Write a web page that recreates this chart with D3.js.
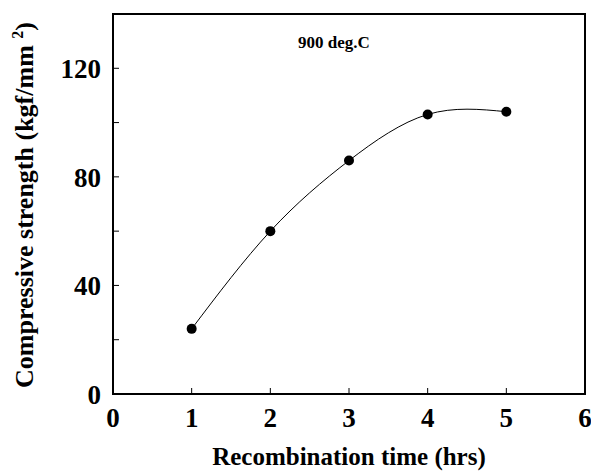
<!DOCTYPE html>
<html lang="en">
<head>
    <meta charset="UTF-8">
    <title>Compressive strength</title>
    <script src="https://cdnjs.cloudflare.com/ajax/libs/d3/7.8.5/d3.min.js"></script>
    <style>
        body { margin: 0; background: #fff; }
        text { font-family: "Liberation Serif", "Times New Roman", serif; font-weight: bold; }
    </style>
</head>
<body>

<div id="chart"></div>

<script>
    var times = [1, 2, 3, 4, 5];
    var strength = [24, 60, 86, 103, 104];
    var xTicks = [0, 1, 2, 3, 4, 5, 6];
    var yTicks = [0, 40, 80, 120];
    var yMinor = [20, 60, 100];

    var width = 591, height = 472;
    var plotL = 113, plotR = 585, plotT = 14, plotB = 394;

    var svg = d3.select("#chart")
        .append("svg")
        .attr("width", width)
        .attr("height", height);

    var x = d3.scaleLinear().domain([0, 6]).range([plotL, plotR]);
    var y = d3.scaleLinear().domain([0, 140]).range([plotB, plotT]);

    // frame
    svg.append("rect")
        .attr("x", plotL).attr("y", plotT)
        .attr("width", plotR - plotL).attr("height", plotB - plotT)
        .attr("fill", "none")
        .attr("stroke", "#000")
        .attr("stroke-width", 2);

    // x ticks (inward)
    svg.selectAll(".xt")
        .data(xTicks.slice(1, -1))
        .enter().append("line")
        .attr("x1", function(d) { return x(d); })
        .attr("x2", function(d) { return x(d); })
        .attr("y1", plotB).attr("y2", plotB - 6)
        .attr("stroke", "#000").attr("stroke-width", 1);

    svg.selectAll(".xl")
        .data(xTicks)
        .enter().append("text")
        .attr("x", function(d) { return x(d); })
        .attr("y", 427)
        .attr("text-anchor", "middle")
        .attr("font-size", 27)
        .text(function(d) { return d; });

    // y ticks (inward)
    svg.selectAll(".yt")
        .data(yTicks.slice(1).concat(yMinor))
        .enter().append("line")
        .attr("x1", plotL).attr("x2", plotL + 6)
        .attr("y1", function(d) { return y(d); })
        .attr("y2", function(d) { return y(d); })
        .attr("stroke", "#000").attr("stroke-width", 1);

    svg.selectAll(".yl")
        .data(yTicks)
        .enter().append("text")
        .attr("x", 101)
        .attr("y", function(d) { return y(d) + 10; })
        .attr("text-anchor", "end")
        .attr("font-size", 27)
        .text(function(d) { return d; });

    // curve
    var line = d3.line()
        .x(function(d) { return x(d[0]); })
        .y(function(d) { return y(d[1]); })
        .curve(d3.curveNatural);

    var pts = times.map(function(t, i) { return [t, strength[i]]; });

    svg.append("path")
        .datum(pts)
        .attr("d", line)
        .attr("fill", "none")
        .attr("stroke", "#000")
        .attr("stroke-width", 1);

    svg.selectAll(".pt")
        .data(pts)
        .enter().append("circle")
        .attr("cx", function(d) { return x(d[0]); })
        .attr("cy", function(d) { return y(d[1]); })
        .attr("r", 5)
        .attr("fill", "#000");

    svg.append("text")
        .attr("x", 298).attr("y", 48)
        .attr("font-size", 17)
        .text("900 deg.C");

    svg.append("text")
        .attr("x", 349).attr("y", 465)
        .attr("text-anchor", "middle")
        .attr("font-size", 25)
        .text("Recombination time (hrs)");

    var yt = svg.append("text")
        .attr("transform", "translate(33,205) rotate(-90)")
        .attr("text-anchor", "middle")
        .attr("font-size", 26);
    yt.append("tspan").text("Compressive strength (kgf/mm ");
    yt.append("tspan").attr("dy", -10).attr("font-size", 16).text("2");
    yt.append("tspan").attr("dy", 10).text(")");
</script>

</body>
</html>
